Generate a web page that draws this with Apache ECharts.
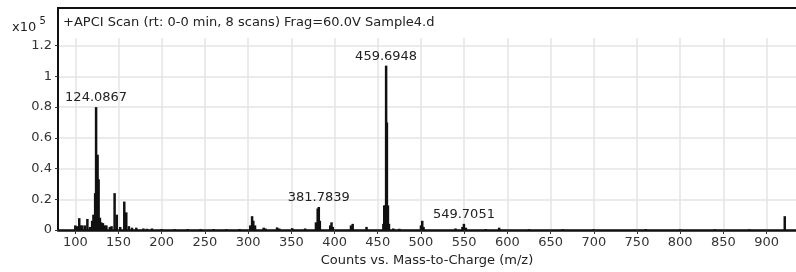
<!DOCTYPE html>
<html>
<head>
<meta charset="utf-8">
<script src="https://cdn.jsdelivr.net/npm/echarts@6/dist/echarts.min.js"></script>
<style>
html,body{margin:0;padding:0;background:#fff;}
#main{width:796px;height:272px;}
</style>
</head>
<body>
<div id="main"></div>
<script>
// m/z of each peak and its intensity (x10^5 counts)
var mzValues = [100, 102, 104.6, 106, 108, 111, 114, 117, 119.5, 121, 123, 124.0867, 125.8, 127, 128.5, 130, 132, 134, 136, 140, 142, 145.5, 148, 152, 156.7, 159, 162, 165.6, 170.6, 178.8, 183, 188.7,
  200, 215, 230, 245, 260, 275, 290,
  302.5, 304.6, 306, 308, 318, 320, 333.5, 336, 351, 366, 378.5, 380.5, 381.7839, 383, 395, 396.5, 398, 419, 421, 437, 456.5, 457.5, 458.6, 459.6948, 460.6, 461.8, 463, 468, 475,
  500, 501.5, 503, 540, 548, 549.7051, 552, 575, 590.5, 625, 664, 700, 760, 800, 840, 880, 921];
var intensities = [0.03, 0.025, 0.077, 0.03, 0.03, 0.03, 0.072, 0.02, 0.06, 0.10, 0.24, 0.80, 0.49, 0.33, 0.08, 0.05, 0.045, 0.03, 0.03, 0.02, 0.025, 0.24, 0.10, 0.02, 0.185, 0.115, 0.025, 0.015, 0.015, 0.01, 0.008, 0.01,
  0.006, 0.005, 0.006, 0.005, 0.006, 0.005, 0.006,
  0.03, 0.09, 0.06, 0.03, 0.015, 0.01, 0.017, 0.01, 0.012, 0.01, 0.05, 0.14, 0.15, 0.06, 0.03, 0.05, 0.02, 0.03, 0.04, 0.02, 0.04, 0.16, 0.16, 1.07, 0.70, 0.16, 0.04, 0.01, 0.008,
  0.03, 0.06, 0.02, 0.01, 0.02, 0.04, 0.015, 0.006, 0.015, 0.005, 0.005, 0.005, 0.006, 0.004, 0.005, 0.004, 0.09];
var labeledPeaks = [124.0867, 381.7839, 459.6948, 549.7051];
var xTicks = [100, 150, 200, 250, 300, 350, 400, 450, 500, 550, 600, 650, 700, 750, 800, 850, 900];
var yTicks = [0, 0.2, 0.4, 0.6, 0.8, 1, 1.2];

var font = 'DejaVu Sans';
var seriesData = [];
for (var i = 0; i < mzValues.length; i++) {
  var item = { value: [mzValues[i], intensities[i]] };
  if (labeledPeaks.indexOf(mzValues[i]) >= 0) {
    item.label = {
      show: true, position: 'top', distance: 3,
      formatter: mzValues[i].toFixed(4),
      color: '#222', fontSize: 13, fontFamily: font
    };
  }
  seriesData.push(item);
}

var myChart = echarts.init(document.getElementById('main'));
var option = {
  animation: false,
  backgroundColor: '#fff',
  grid: { left: 58, right: 0, top: 38, bottom: 38 },
  xAxis: {
    type: 'value',
    min: 80, max: 934,
    name: 'Counts vs. Mass-to-Charge (m/z)',
    nameLocation: 'middle', nameGap: 24,
    nameTextStyle: { color: '#222', fontSize: 13, fontFamily: font },
    axisLine: { show: true, onZero: false, lineStyle: { color: '#111', width: 2.5 } },
    axisTick: { show: true, length: 4, customValues: xTicks, lineStyle: { color: '#333' } },
    axisLabel: { customValues: xTicks, color: '#333', fontSize: 13, fontFamily: font, margin: 6 },
    splitLine: { show: true, lineStyle: { color: '#e4e4e4', width: 1.5 } }
  },
  yAxis: {
    type: 'value',
    min: 0, max: 1.25,
    axisLine: { show: true, lineStyle: { color: '#111', width: 2 } },
    axisTick: { show: true, length: 3, customValues: yTicks, lineStyle: { color: '#333' } },
    axisLabel: { customValues: yTicks, color: '#333', fontSize: 13, fontFamily: font, margin: 6 },
    splitLine: { show: true, lineStyle: { color: '#e4e4e4', width: 1.5 } }
  },
  graphic: [
    { type: 'line', shape: { x1: 57, y1: 8, x2: 796, y2: 8 }, style: { stroke: '#111', lineWidth: 2 } },
    { type: 'line', shape: { x1: 58, y1: 7, x2: 58, y2: 40 }, style: { stroke: '#111', lineWidth: 2 } },
    { type: 'text', left: 63, top: 16,
      style: { text: '+APCI Scan (rt: 0-0 min, 8 scans) Frag=60.0V Sample4.d', fill: '#222', font: '13px ' + font } },
    { type: 'text', left: 12, top: 16,
      style: { text: '{a|x10}{b| 5}', fill: '#222',
        rich: { a: { fontSize: 13, fontFamily: font, padding: [5, 0, 0, 0] }, b: { fontSize: 10, fontFamily: font, verticalAlign: 'top' } } } }
  ],
  series: [{
    type: 'bar',
    barWidth: 2.5,
    itemStyle: { color: '#111' },
    data: seriesData
  }]
};
myChart.setOption(option);
</script>
</body>
</html>
